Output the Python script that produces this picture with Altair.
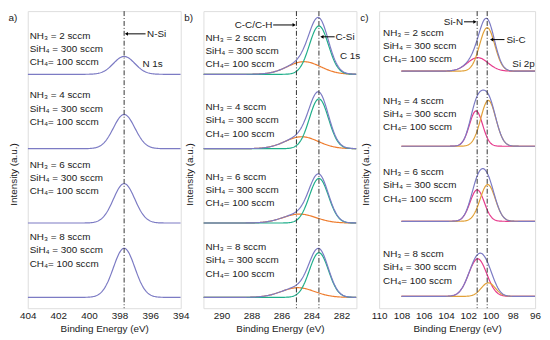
import altair as alt
import numpy as np
import pandas as pd

# ---------------- data ----------------
nh3_labels = ["NH₃ = 2 sccm", "NH₃ = 4 sccm", "NH₃ = 6 sccm", "NH₃ = 8 sccm"]
sih4_label = "SiH₄ = 300 sccm"
ch4_label = "CH₄= 100 sccm"
stack_offsets = [3, 2, 1, 0]          # vertical offset of each spectrum (a.u.)

# (a) N 1s : N-Si component (envelope)
a_center = [397.7, 397.7, 397.7, 397.7]
a_height = [0.24, 0.46, 0.53, 0.66]
a_fwhm = [1.65, 1.65, 1.65, 1.65]

# (b) C 1s : C-Si and C-C/C-H components
b_csi_center = [283.5, 283.5, 283.5, 283.5]
b_csi_height = [0.65, 0.67, 0.60, 0.60]
b_csi_fwhm = [1.5, 1.5, 1.5, 1.5]
b_cc_center = [284.5, 284.65, 284.8, 284.9]
b_cc_height = [0.17, 0.16, 0.12, 0.13]
b_cc_fwhm = [2.6, 2.6, 2.6, 2.6]

# (c) Si 2p : Si-C and Si-N components
c_sic_center = [100.3, 100.2, 100.25, 100.2]
c_sic_height = [0.58, 0.61, 0.49, 0.18]
c_sic_fwhm = [1.6, 1.6, 1.6, 1.5]
c_sin_center = [101.15, 101.3, 101.2, 101.15]
c_sin_height = [0.18, 0.47, 0.42, 0.50]
c_sin_fwhm = [2.2, 1.4, 1.5, 1.9]

a_dashes = [397.7]
b_dashes = [285.0, 283.5]
c_dashes = [101.2, 100.3]

a_ticks = [404, 402, 400, 398, 396, 394]
b_ticks = [290, 288, 286, 284, 282]
c_ticks = [110, 108, 106, 104, 102, 100, 98, 96]

# ---------------- styling / layout ----------------
FONT = "Liberation Sans"
PURPLE = "#7C7BC4"
TEAL = "#1FAE8A"
ORANGE = "#EE7D2F"
GOLD = "#E2A138"
PINK = "#E63A8C"
INK = "#1a1a1a"
H = 301
LINE_GAP = 13.5


def peak(x, c, h, w):
    return h * np.exp(-4 * np.log(2) * ((x - c) / w) ** 2)


def build_curves(xgrid, comps):
    """comps: list of (name, centers, heights, fwhms); envelope = sum."""
    rows = []
    for i, off in enumerate(stack_offsets):
        total = np.zeros_like(xgrid)
        for name, cs, hs, ws in comps:
            yv = peak(xgrid, cs[i], hs[i], ws[i])
            total = total + yv
            if len(comps) > 1:
                rows.append(pd.DataFrame({"x": xgrid, "y": off + yv, "comp": name, "stack": i}))
        rows.append(pd.DataFrame({"x": xgrid, "y": off + total, "comp": "env", "stack": i}))
    return pd.concat(rows, ignore_index=True)


def stack_text(rel_px, pitch):
    rows = []
    for i, off in enumerate(stack_offsets):
        for j, t in enumerate([nh3_labels[i], sih4_label, ch4_label]):
            rows.append({"t": t, "y": off + (rel_px[i] - LINE_GAP * j) / pitch})
    return pd.DataFrame(rows)


def panel(curves, comp_order, comp_colors, xdom, ydom, xvals, width, dashes,
          texts, text_dx, notes, arrows, tag):
    xs = alt.Scale(domain=xdom, nice=False, zero=False)
    ys = alt.Scale(domain=ydom, nice=False, zero=False)
    xaxis = alt.Axis(values=xvals, format="d", title="Binding Energy (eV)", ticks=False,
                     domain=False, grid=False, labelFontSize=10, titleFontSize=10,
                     labelPadding=2, titlePadding=4, labelColor=INK, titleColor=INK,
                     titleFontWeight="normal", labelFont=FONT, titleFont=FONT,
                     labelOverlap=False, labelFlush=False, labelBound=False)
    yaxis = alt.Axis(title="Intensity (a.u.)", labels=False, ticks=False, domain=False,
                     grid=False, titleFontSize=10, titlePadding=9, titleColor=INK,
                     titleFontWeight="normal", titleFont=FONT, titleY=165)
    X = lambda f: alt.X(f, scale=xs, axis=xaxis)
    Y = lambda f: alt.Y(f, scale=ys, axis=yaxis)
    layers = []
    for comp in comp_order:
        d = curves[curves["comp"] == comp]
        layers.append(alt.Chart(d).mark_line(color=comp_colors[comp], strokeWidth=1.2,
                                             clip=True).encode(
            x=X("x:Q"), y=Y("y:Q"), detail="stack:N"))
    layers.append(alt.Chart(pd.DataFrame({"x": dashes})).mark_rule(
        color="#333333", strokeWidth=1, strokeDash=[5, 2, 1, 2]).encode(x=X("x:Q")))
    layers.append(alt.Chart(texts).mark_text(align="left", baseline="middle", fontSize=10,
                                             font=FONT, color=INK).encode(
        x=alt.value(text_dx), y=Y("y:Q"), text="t:N"))
    for al in ["left", "right"]:
        d = notes[notes["align"] == al]
        if len(d):
            layers.append(alt.Chart(d).mark_text(align=al, baseline="middle", fontSize=10,
                                                 font=FONT, color=INK).encode(
                x=X("x:Q"), y=Y("y:Q"), text="t:N"))
    layers.append(alt.Chart(arrows).mark_rule(color="black", strokeWidth=1).encode(
        x=X("x1:Q"), x2="x2:Q", y=Y("y:Q")))
    layers.append(alt.Chart(arrows).mark_point(filled=True, size=14, opacity=1,
                                               color="black").encode(
        x=X("x2:Q"), y=Y("y:Q"),
        shape=alt.Shape("dir:N", scale=alt.Scale(domain=["left", "right"],
                                                  range=["triangle-left", "triangle-right"]),
                        legend=None)))
    layers.append(alt.Chart(pd.DataFrame({"t": [tag]})).mark_text(
        fontSize=10, font=FONT, color=INK, baseline="middle").encode(
        text="t:N", x=alt.value(-15), y=alt.value(7)))
    return alt.layer(*layers).properties(width=width, height=H)


# ---- panel a ----
ya = [-0.146, 3.85]
xa = np.round(np.arange(394, 404.0001, 0.05), 3)
cur_a = build_curves(xa, [("N-Si", a_center, a_height, a_fwhm)])
pa = H / (ya[1] - ya[0])
notes_a = pd.DataFrame([
    {"t": "N-Si", "x": 396.2, "y": 3 + 41 / pa, "align": "left"},
    {"t": "N 1s", "x": 396.5, "y": 3 + 10 / pa, "align": "left"},
])
arr_a = pd.DataFrame([{"x1": 396.3, "x2": 397.55, "y": 3 + 41 / pa, "dir": "left"}])
chart_a = panel(cur_a, ["env"], {"env": PURPLE}, [404, 394], ya, a_ticks, 155, a_dashes,
                stack_text([39, 54, 59, 61], pa), 2, notes_a, arr_a, "a)")

# ---- panel b ----
yb = [-0.146, 3.85]
xb = np.round(np.arange(281.0, 291.2001, 0.05), 3)
cur_b = build_curves(xb, [("C-Si", b_csi_center, b_csi_height, b_csi_fwhm),
                          ("C-C", b_cc_center, b_cc_height, b_cc_fwhm)])
pb = H / (yb[1] - yb[0])
notes_b = pd.DataFrame([
    {"t": "C-C/C-H", "x": 286.6, "y": 3 + 50 / pb, "align": "right"},
    {"t": "C-Si", "x": 282.4, "y": 3 + 38 / pb, "align": "left"},
    {"t": "C 1s", "x": 282.1, "y": 3 + 19 / pb, "align": "left"},
])
arr_b = pd.DataFrame([
    {"x1": 286.55, "x2": 285.15, "y": 3 + 50 / pb, "dir": "right"},
    {"x1": 282.45, "x2": 283.3, "y": 3 + 38 / pb, "dir": "left"},
])
chart_b = panel(cur_b, ["C-C", "C-Si", "env"],
                {"env": PURPLE, "C-Si": TEAL, "C-C": ORANGE}, [291.2, 281.0], yb,
                b_ticks, 155, b_dashes, stack_text([37, 42, 47, 51], pb), 2,
                notes_b, arr_b, "b)")

# ---- panel c ----
yc = [-0.158, 3.80]
xc = np.round(np.arange(96.0, 108.0001, 0.05), 3)
cur_c = build_curves(xc, [("Si-C", c_sic_center, c_sic_height, c_sic_fwhm),
                          ("Si-N", c_sin_center, c_sin_height, c_sin_fwhm)])
pc = H / (yc[1] - yc[0])
notes_c = pd.DataFrame([
    {"t": "Si-N", "x": 102.47, "y": 3 + 50 / pc, "align": "right"},
    {"t": "Si-C", "x": 98.57, "y": 3 + 32 / pc, "align": "left"},
    {"t": "Si 2p", "x": 98.04, "y": 3 + 7 / pc, "align": "left"},
])
arr_c = pd.DataFrame([
    {"x1": 102.38, "x2": 101.4, "y": 3 + 50 / pc, "dir": "right"},
    {"x1": 98.75, "x2": 99.9, "y": 3 + 32 / pc, "dir": "left"},
])
chart_c = panel(cur_c, ["Si-N", "Si-C", "env"],
                {"env": PURPLE, "Si-C": GOLD, "Si-N": PINK}, [110, 96], yc,
                c_ticks, 158, c_dashes, stack_text([39, 46, 50, 43], pc), 4,
                notes_c, arr_c, "c)")

chart = alt.hconcat(chart_a, chart_b, chart_c, spacing=23, bounds="flush").properties(
    padding={"left": 0, "top": 0, "right": 0, "bottom": 0}
).configure_view(stroke="#8a8a8a", strokeWidth=1).configure(font=FONT)

chart.save("out.html", embed_options={"renderer": "svg", "actions": False})
